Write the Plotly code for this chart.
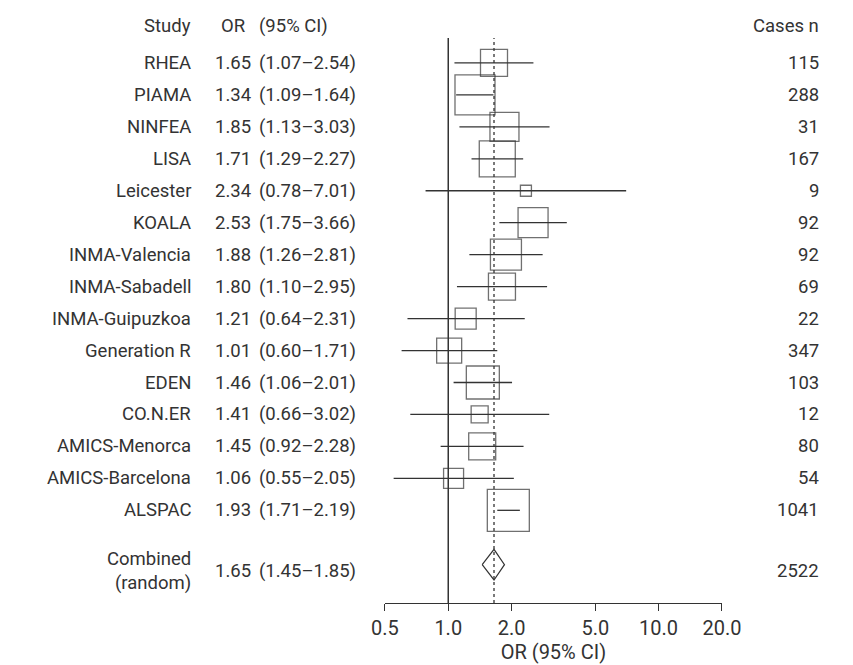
import plotly.graph_objects as go
import numpy as np

studies = ["RHEA","PIAMA","NINFEA","LISA","Leicester","KOALA","INMA-Valencia","INMA-Sabadell",
           "INMA-Guipuzkoa","Generation R","EDEN","CO.N.ER","AMICS-Menorca","AMICS-Barcelona","ALSPAC"]
or_vals = [1.65,1.34,1.85,1.71,2.34,2.53,1.88,1.80,1.21,1.01,1.46,1.41,1.45,1.06,1.93]
ci_lo = [1.07,1.09,1.13,1.29,0.78,1.75,1.26,1.10,0.64,0.60,1.06,0.66,0.92,0.55,1.71]
ci_hi = [2.54,1.64,3.03,2.27,7.01,3.66,2.81,2.95,2.31,1.71,2.01,3.02,2.28,2.05,2.19]
cases = [115,288,31,167,9,92,92,69,22,347,103,12,80,54,1041]
box_px = [27,40,29,36,11,30,31,27,21,25,33,17,27,20,42]
comb_or, comb_lo, comb_hi, comb_cases = 1.65, 1.45, 1.85, 2522
ticks = [0.5,1.0,2.0,5.0,10.0,20.0]

rows = list(range(len(studies)))
comb_row = 15.7
col = "#333333"
font = dict(family="Roboto", size=18.5, color=col)

fig = go.Figure()
fig.add_trace(go.Scatter(
    x=or_vals, y=rows, mode="markers",
    marker=dict(symbol="square-open", size=box_px, color=col, line=dict(width=1.3, color=col)),
    error_x=dict(type="data", symmetric=False,
                 array=[h-o for h,o in zip(ci_hi,or_vals)],
                 arrayminus=[o-l for o,l in zip(or_vals,ci_lo)],
                 width=0, thickness=1.3, color=col),
    showlegend=False, hoverinfo="skip"))
fig.add_trace(go.Scatter(
    x=[comb_lo, comb_or, comb_hi, comb_or, comb_lo],
    y=[comb_row, comb_row-0.48, comb_row, comb_row+0.48, comb_row],
    mode="lines", line=dict(color=col, width=1.2), showlegend=False, hoverinfo="skip"))

fig.add_shape(type="line", x0=1, x1=1, y0=0, y1=1, xref="x", yref="paper",
              line=dict(color=col, width=1.5))
fig.add_shape(type="line", x0=comb_or, x1=comb_or, y0=0, y1=1, xref="x", yref="paper",
              line=dict(color=col, width=1.3, dash="dot"))

def ann(x, y, text, anchor, yref="y"):
    fig.add_annotation(x=x, y=y, xref="paper", yref=yref, text=text, showarrow=False,
                       xanchor=anchor, yanchor="middle", font=font)

hy = 1.021
ann(178/853, hy, "Study", "right", "paper")
ann(220/853, hy, "OR", "center", "paper")
ann(245/853, hy, "(95% CI)", "left", "paper")
ann(832/853, hy, "Cases n", "right", "paper")
for i, s in enumerate(studies):
    ann(178/853, i, s, "right")
    ann(220/853, i, f"{or_vals[i]:.2f}", "center")
    ann(245/853, i, f"({ci_lo[i]:.2f}–{ci_hi[i]:.2f})", "left")
    ann(832/853, i, str(cases[i]), "right")
cy = 15.9
fig.add_annotation(x=178/853, y=cy, xref="paper", yref="y", text="Combined<br>(random)",
                   showarrow=False, xanchor="right", yanchor="middle", align="right", font=font)
ann(220/853, cy, f"{comb_or:.2f}", "center")
ann(245/853, cy, f"({comb_lo:.2f}–{comb_hi:.2f})", "left")
ann(832/853, cy, str(comb_cases), "right")

fig.update_layout(
    width=853, height=665, margin=dict(l=0, r=0, t=30, b=70),
    paper_bgcolor="white", plot_bgcolor="white",
    xaxis=dict(type="log", range=[np.log10(0.5), np.log10(20)], domain=[378/853, 729/853],
               tickvals=ticks, ticktext=[f"{t:.1f}" for t in ticks],
               showgrid=False, zeroline=False, showline=True, linecolor=col, linewidth=1.3,
               ticks="outside", ticklen=7, tickcolor=col, tickwidth=1.3,
               tickfont=dict(family="Roboto", size=20, color=col),
               title=dict(text="OR (95% CI)", font=dict(family="Roboto", size=20, color=col), standoff=0)),
    yaxis=dict(range=[16.9, -0.78], visible=False, showgrid=False, zeroline=False),
)
fig.write_html("out.html")
